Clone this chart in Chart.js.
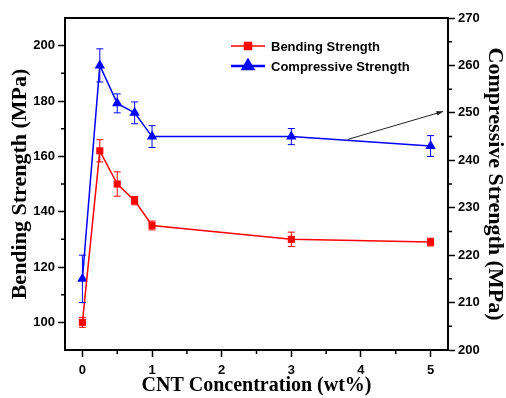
<!DOCTYPE html>
<html>
<head>
<meta charset="utf-8">
<script src="https://cdn.jsdelivr.net/npm/chart.js@4.4.0/dist/chart.umd.min.js"></script>
<style>
  html, body { margin: 0; padding: 0; background: #fff; }
  #wrap { width: 506px; height: 398px; }
</style>
</head>
<body>
<div id="wrap"><canvas id="chart"></canvas></div>
<script>
// CNT content (wt%)
const cntConcentration = [0, 0.25, 0.5, 0.75, 1, 3, 5];
// Bending strength, left axis (MPa)
const bendingStrength = [100, 162, 150, 144, 135, 130, 129];
const bendingError = [1.8, 4, 4.4, 1.5, 1.6, 2.6, 1.4];
// Compressive strength, right axis (MPa)
const compressiveStrength = [215, 260, 252, 250, 245, 245, 243];
const compressiveError = [5, 3.5, 2, 2.3, 2.3, 1.7, 2.2];
// labelled (major) ticks
const xTickLabels = [0, 1, 2, 3, 4, 5];
const leftTickLabels = [100, 120, 140, 160, 180, 200];
const rightTickLabels = [200, 210, 220, 230, 240, 250, 260, 270];
// minor ticks
const xMinorTicks = [0.5, 1.5, 2.5, 3.5, 4.5];
const leftMinorTicks = [110, 130, 150, 170, 190];
const rightMinorTicks = [205, 215, 225, 235, 245, 255, 265];
// arrow pointing at the right axis: [x, compressive value]
const arrowFrom = [3.81, 244.4];
const arrowTo = [5.18, 250.3];

const RED = '#ff0000';
const BLUE = '#0000ff';
const tickFont = { family: '"Liberation Sans", Arial, sans-serif', size: 13, weight: 'bold' };
const titleFont = { family: '"Liberation Serif", "Times New Roman", serif', size: 22, weight: 'bold', lineHeight: 1 };

function pts(xs, ys) {
    return xs.map(function(x, i) { return { x: x, y: ys[i] }; });
}

function setTicks(list) {
    return function(s) { s.ticks = list.map(function(v) { return { value: v }; }); };
}

const errorBars = {
    id: 'errorBars',
    afterDatasetsDraw(chart) {
        const ctx = chart.ctx;
        const xs = chart.scales.x;
        const sets = [
            { scale: chart.scales.y, vals: bendingStrength, errs: bendingError, color: RED },
            { scale: chart.scales.y2, vals: compressiveStrength, errs: compressiveError, color: BLUE },
        ];
        ctx.save();
        ctx.lineWidth = 1;
        sets.forEach(function(s) {
            ctx.strokeStyle = s.color;
            s.vals.forEach(function(v, i) {
                const px = xs.getPixelForValue(cntConcentration[i]);
                const top = s.scale.getPixelForValue(v + s.errs[i]);
                const bot = s.scale.getPixelForValue(v - s.errs[i]);
                ctx.beginPath();
                ctx.moveTo(px, top); ctx.lineTo(px, bot);
                ctx.moveTo(px - 3.5, top); ctx.lineTo(px + 3.5, top);
                ctx.moveTo(px - 3.5, bot); ctx.lineTo(px + 3.5, bot);
                ctx.stroke();
            });
        });
        ctx.restore();
    }
};

const decorations = {
    id: 'decorations',
    afterDraw(chart) {
        const ctx = chart.ctx;
        const a = chart.chartArea;
        const xs = chart.scales.x, y1 = chart.scales.y, y2 = chart.scales.y2;
        ctx.save();
        // top frame
        ctx.strokeStyle = '#000';
        ctx.lineWidth = 2;
        ctx.beginPath();
        ctx.moveTo(a.left - 1, a.top); ctx.lineTo(a.right + 1, a.top);
        ctx.stroke();

        // minor ticks
        ctx.lineWidth = 1.5;
        ctx.beginPath();
        xMinorTicks.forEach(function(v) {
            const p = xs.getPixelForValue(v);
            ctx.moveTo(p, a.bottom); ctx.lineTo(p, a.bottom + 4);
        });
        leftMinorTicks.forEach(function(v) {
            const p = y1.getPixelForValue(v);
            ctx.moveTo(a.left, p); ctx.lineTo(a.left - 4, p);
        });
        rightMinorTicks.forEach(function(v) {
            const p = y2.getPixelForValue(v);
            ctx.moveTo(a.right, p); ctx.lineTo(a.right + 4, p);
        });
        ctx.stroke();

        // arrow
        const x1 = xs.getPixelForValue(arrowFrom[0]), yA = y2.getPixelForValue(arrowFrom[1]);
        const x2 = xs.getPixelForValue(arrowTo[0]), yB = y2.getPixelForValue(arrowTo[1]);
        ctx.lineWidth = 1;
        ctx.strokeStyle = '#222';
        ctx.beginPath(); ctx.moveTo(x1, yA); ctx.lineTo(x2, yB); ctx.stroke();
        const ang = Math.atan2(yB - yA, x2 - x1);
        ctx.fillStyle = '#222';
        ctx.beginPath();
        ctx.moveTo(x2, yB);
        ctx.lineTo(x2 - 7 * Math.cos(ang - 0.35), yB - 7 * Math.sin(ang - 0.35));
        ctx.lineTo(x2 - 7 * Math.cos(ang + 0.35), yB - 7 * Math.sin(ang + 0.35));
        ctx.closePath(); ctx.fill();

        // legend
        const items = [
            { label: 'Bending Strength', color: RED, style: 'rect', r: 5 },
            { label: 'Compressive Strength', color: BLUE, style: 'triangle', r: 6 },
        ];
        ctx.font = 'bold 13px "Liberation Sans", Arial, sans-serif';
        ctx.textBaseline = 'middle';
        items.forEach(function(it, i) {
            const y = 46 + i * 20;
            ctx.strokeStyle = it.color;
            ctx.lineWidth = it.style === 'rect' ? 1.5 : 2.5;
            ctx.beginPath(); ctx.moveTo(231, y); ctx.lineTo(265, y); ctx.stroke();
            ctx.fillStyle = it.color;
            Chart.helpers.drawPoint(ctx, { pointStyle: it.style, radius: it.r, borderWidth: 1, rotation: 0 }, 248, y);
            ctx.fill();
            ctx.fillStyle = '#000';
            ctx.fillText(it.label, 271, y + 1);
        });
        ctx.restore();
    }
};

new Chart(document.getElementById('chart'), {
    type: 'line',
    data: {
        datasets: [
            {
                label: 'Bending Strength',
                data: pts(cntConcentration, bendingStrength),
                yAxisID: 'y',
                borderColor: RED,
                backgroundColor: RED,
                borderWidth: 1.5,
                pointStyle: 'rect',
                pointRadius: 5,
                pointBorderWidth: 0,
                tension: 0,
            },
            {
                label: 'Compressive Strength',
                data: pts(cntConcentration, compressiveStrength),
                yAxisID: 'y2',
                borderColor: BLUE,
                backgroundColor: BLUE,
                borderWidth: 1.5,
                pointStyle: 'triangle',
                pointRadius: 6,
                pointBorderWidth: 0,
                tension: 0,
            },
        ],
    },
    options: {
        responsive: true,
        maintainAspectRatio: false,
        animation: false,
        layout: { padding: { top: 18, left: 0, right: 0, bottom: 0 } },
        plugins: { legend: { display: false }, tooltip: { enabled: false } },
        scales: {
            x: {
                type: 'linear',
                position: 'bottom',
                min: -0.25,
                max: 5.25,
                afterBuildTicks: setTicks(xTickLabels),
                afterFit: function(s) { s.height = 48; },
                border: { color: '#000', width: 2 },
                grid: { drawOnChartArea: false, tickLength: 7, tickColor: '#000', tickWidth: 1.5 },
                ticks: { autoSkip: false, maxRotation: 0, color: '#000', font: tickFont, padding: 6 },
                title: { display: true, text: 'CNT Concentration (wt%)', color: '#000',
                    font: Object.assign({}, titleFont, { size: 20 }), padding: { top: 0, bottom: 2 } },
            },
            y: {
                position: 'left',
                min: 90,
                max: 210,
                afterBuildTicks: setTicks(leftTickLabels),
                afterFit: function(s) { s.width = 65; },
                border: { color: '#000', width: 2 },
                grid: { drawOnChartArea: false, tickLength: 7, tickWidth: 1.5, tickColor: '#000' },
                ticks: { autoSkip: false, color: '#000', font: tickFont, padding: 3 },
                title: { display: true, text: 'Bending Strength (MPa)', color: '#000', font: titleFont,
                    padding: { top: 9, bottom: 0 } },
            },
            y2: {
                position: 'right',
                min: 200,
                max: 270,
                afterBuildTicks: setTicks(rightTickLabels),
                afterFit: function(s) { s.width = 58; },
                border: { color: '#000', width: 2 },
                grid: { drawOnChartArea: false, tickLength: 7, tickWidth: 1.5, tickColor: '#000' },
                ticks: { autoSkip: false, color: '#000', font: tickFont, padding: 3 },
                title: { display: true, text: 'Compressive Strength (MPa)', color: '#000', font: titleFont,
                    padding: { top: 0, bottom: 0 } },
            },
        },
    },
    plugins: [errorBars, decorations],
});
</script>
</body>
</html>
